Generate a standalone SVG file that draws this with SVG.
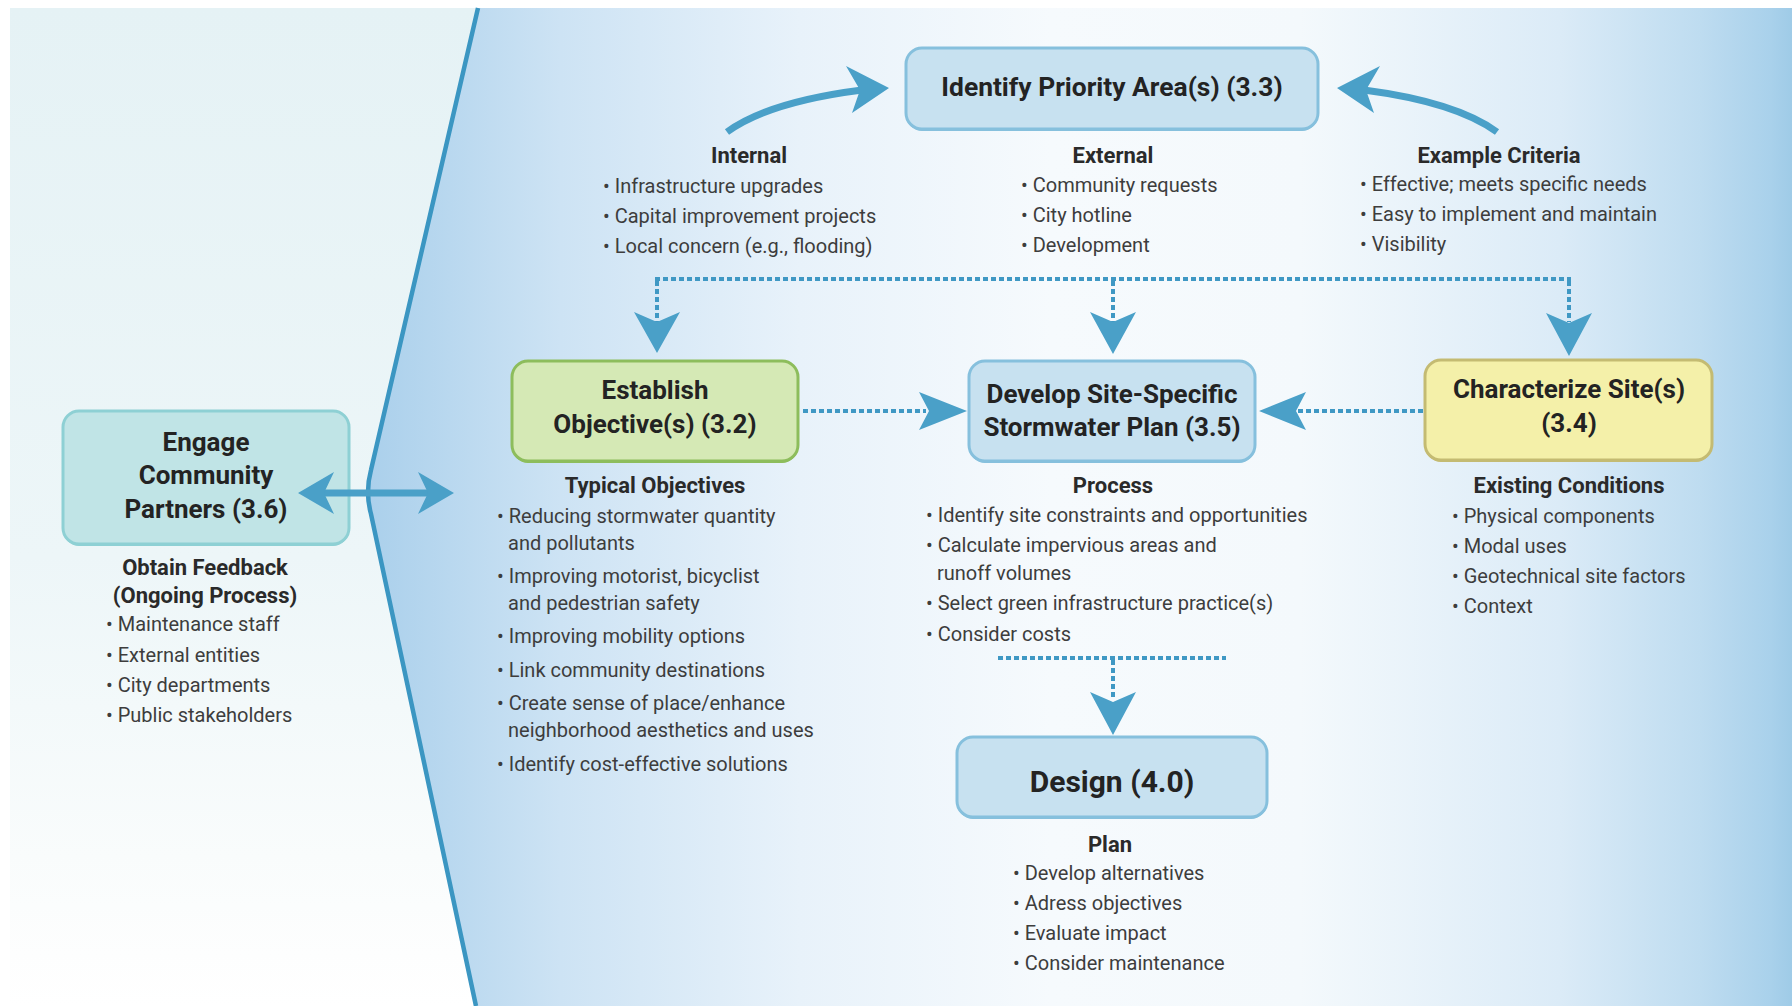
<svg xmlns="http://www.w3.org/2000/svg" width="1792" height="1006" viewBox="0 0 1792 1006">
<defs>
<linearGradient id="gLeft" x1="0" y1="8" x2="0" y2="1006" gradientUnits="userSpaceOnUse">
<stop offset="0" stop-color="#e5f2f5"/>
<stop offset="0.55" stop-color="#edf6f8"/>
<stop offset="0.85" stop-color="#f9fcfc"/>
<stop offset="1" stop-color="#ffffff"/>
</linearGradient>
<linearGradient id="gRight" x1="360" y1="0" x2="1792" y2="0" gradientUnits="userSpaceOnUse">
<stop offset="0" stop-color="#a9cfeb"/>
<stop offset="0.14" stop-color="#cde3f4"/>
<stop offset="0.307" stop-color="#e8f2fa"/>
<stop offset="0.482" stop-color="#f6fafd"/>
<stop offset="0.656" stop-color="#f4f9fc"/>
<stop offset="0.838" stop-color="#dbebf7"/>
<stop offset="0.936" stop-color="#bedcf0"/>
<stop offset="0.985" stop-color="#a9d1eb"/>
<stop offset="1" stop-color="#9fcbe7"/>
</linearGradient>
<style>
.t{font-family:Roboto,"Liberation Sans",sans-serif;font-weight:700;font-size:26px;fill:#232323;text-anchor:middle}
.h{font-family:Roboto,"Liberation Sans",sans-serif;font-weight:700;font-size:22px;fill:#2a2a2a;text-anchor:middle}
.b{font-family:Roboto,"Liberation Sans",sans-serif;font-size:20px;fill:#3d3d3d}
.ah{fill:#4aa0c8}
.dot{stroke:#3f98c4;stroke-width:4;stroke-dasharray:5 3;fill:none}
.shaft{stroke:#4aa0c8;stroke-width:7;fill:none}
.blue{fill:#c7e1f0}
.blueE{fill:#86c0dd}
.green{fill:#d5e9b5}
.greenE{fill:#8dbd5c}
.yellow{fill:#f4f0a9}
.yellowE{fill:#c4bb72}
.teal{fill:#c0e4e6}
.tealE{fill:#8ed0d4}
</style>
</defs>

<g id="background">
<rect x="0" y="0" width="1792" height="1006" fill="#ffffff"/>
<path d="M10,8 L478,8 L371,470 Q365,492 371,514 L476,1006 L10,1006 Z" fill="url(#gLeft)"/>
<path d="M478,8 L1792,8 L1792,1006 L476,1006 L371,514 Q365,492 371,470 Z" fill="url(#gRight)"/>
<path d="M478,8 L371,470 Q365,492 371,514 L476,1006" fill="none" stroke="#3b96c2" stroke-width="4.5"/>
</g>

<g id="n33">
<rect class="blueE" x="906" y="50" width="412" height="81" rx="16"/>
<rect class="blue" x="906" y="48" width="412" height="81" rx="16" stroke="#86c0dd" stroke-width="3"/>
<text class="t" x="1112" y="96" style="font-size:26.4px">Identify Priority Area(s) (3.3)</text>
</g>

<g id="internal">
<text class="h" x="749" y="163">Internal</text>
<text class="b"><tspan x="603" y="193">• Infrastructure upgrades</tspan><tspan x="603" y="223">• Capital improvement projects</tspan><tspan x="603" y="253">• Local concern (e.g., flooding)</tspan></text>
</g>

<g id="external">
<text class="h" x="1113" y="163">External</text>
<text class="b"><tspan x="1021" y="192">• Community requests</tspan><tspan x="1021" y="222">• City hotline</tspan><tspan x="1021" y="252">• Development</tspan></text>
</g>

<g id="criteria">
<text class="h" x="1499" y="163">Example Criteria</text>
<text class="b"><tspan x="1360" y="191">• Effective; meets specific needs</tspan><tspan x="1360" y="221">• Easy to implement and maintain</tspan><tspan x="1360" y="251">• Visibility</tspan></text>
</g>

<g id="n32">
<rect class="greenE" x="512" y="363" width="286" height="100" rx="16"/>
<rect class="green" x="512" y="361" width="286" height="100" rx="16" stroke="#8dbd5c" stroke-width="3"/>
<text class="t" x="655" y="399">Establish</text>
<text class="t" x="655" y="433">Objective(s) (3.2)</text>
</g>

<g id="objectives">
<text class="h" x="655" y="493">Typical Objectives</text>
<text class="b"><tspan x="497" y="523">• Reducing stormwater quantity</tspan><tspan x="508" y="550">and pollutants</tspan><tspan x="497" y="583">• Improving motorist, bicyclist</tspan><tspan x="508" y="610">and pedestrian safety</tspan><tspan x="497" y="643">• Improving mobility options</tspan><tspan x="497" y="677">• Link community destinations</tspan><tspan x="497" y="710">• Create sense of place/enhance</tspan><tspan x="508" y="737">neighborhood aesthetics and uses</tspan><tspan x="497" y="771">• Identify cost-effective solutions</tspan></text>
</g>

<g id="n35">
<rect class="blueE" x="969" y="363" width="286" height="100" rx="16"/>
<rect class="blue" x="969" y="361" width="286" height="100" rx="16" stroke="#86c0dd" stroke-width="3"/>
<text class="t" x="1112" y="403">Develop Site-Specific</text>
<text class="t" x="1112" y="436">Stormwater Plan (3.5)</text>
</g>

<g id="process">
<text class="h" x="1113" y="493">Process</text>
<text class="b"><tspan x="926" y="522">• Identify site constraints and opportunities</tspan><tspan x="926" y="552">• Calculate impervious areas and</tspan><tspan x="937" y="580">runoff volumes</tspan><tspan x="926" y="610">• Select green infrastructure practice(s)</tspan><tspan x="926" y="641">• Consider costs</tspan></text>
</g>

<g id="n34">
<rect class="yellowE" x="1425" y="362" width="287" height="100" rx="16"/>
<rect class="yellow" x="1425" y="360" width="287" height="100" rx="16" stroke="#c4bb72" stroke-width="3"/>
<text class="t" x="1569" y="398">Characterize Site(s)</text>
<text class="t" x="1569" y="432">(3.4)</text>
</g>

<g id="conditions">
<text class="h" x="1569" y="493">Existing Conditions</text>
<text class="b"><tspan x="1452" y="523">• Physical components</tspan><tspan x="1452" y="553">• Modal uses</tspan><tspan x="1452" y="583">• Geotechnical site factors</tspan><tspan x="1452" y="613">• Context</tspan></text>
</g>

<g id="n36">
<rect class="tealE" x="63" y="413" width="286" height="133" rx="16"/>
<rect class="teal" x="63" y="411" width="286" height="133" rx="16" stroke="#8ed0d4" stroke-width="3"/>
<text class="t" x="206" y="451">Engage</text>
<text class="t" x="206" y="484">Community</text>
<text class="t" x="206" y="518">Partners (3.6)</text>
</g>

<g id="feedback">
<text class="h" x="205" y="575">Obtain Feedback</text>
<text class="h" x="205" y="603">(Ongoing Process)</text>
<text class="b"><tspan x="106" y="631">• Maintenance staff</tspan><tspan x="106" y="662">• External entities</tspan><tspan x="106" y="692">• City departments</tspan><tspan x="106" y="722">• Public stakeholders</tspan></text>
</g>

<g id="n40">
<rect class="blueE" x="957" y="739" width="310" height="80" rx="16"/>
<rect class="blue" x="957" y="737" width="310" height="80" rx="16" stroke="#86c0dd" stroke-width="3"/>
<text class="t" x="1112" y="792" style="font-size:30px">Design (4.0)</text>
</g>

<g id="plan">
<text class="h" x="1110" y="852">Plan</text>
<text class="b"><tspan x="1013" y="880">• Develop alternatives</tspan><tspan x="1013" y="910">• Adress objectives</tspan><tspan x="1013" y="940">• Evaluate impact</tspan><tspan x="1013" y="970">• Consider maintenance</tspan></text>
</g>

<g id="connectors">
<!-- curved arrows into Identify Priority Area(s) -->
<path class="shaft" d="M727,132 Q768,102 862,90"/>
<polygon class="ah" points="889,88 846,66 860,90 852,113"/>
<path class="shaft" d="M1497,132 Q1456,102 1364,90"/>
<polygon class="ah" points="1337,88 1380,66 1366,90 1374,113"/>
<!-- top dotted distribution -->
<path class="dot" d="M655,279 L1571,279"/>
<path class="dot" d="M657,281 L657,322"/>
<polygon class="ah" points="657,353 634,312 657,322 680,312"/>
<path class="dot" d="M1113,281 L1113,322"/>
<polygon class="ah" points="1113,354 1090,312 1113,322 1136,312"/>
<path class="dot" d="M1569,281 L1569,322"/>
<polygon class="ah" points="1569,356 1546,313 1569,323 1592,313"/>
<!-- horizontal dotted arrows into Develop -->
<path class="dot" d="M803,411 L926,411"/>
<polygon class="ah" points="967,411 919,392 929,411 919,430"/>
<path class="dot" d="M1423,411 L1298,411"/>
<polygon class="ah" points="1259,411 1306,392 1296,411 1306,430"/>
<!-- dotted from Process to Design -->
<path class="dot" d="M998,658 L1226,658"/>
<path class="dot" d="M1113,660 L1113,700"/>
<polygon class="ah" points="1113,735 1090,692 1113,702 1136,692"/>
<!-- double arrow Engage -->
<path class="shaft" d="M322,493 L430,493"/>
<polygon class="ah" points="298,493 334,472 324,493 334,514"/>
<polygon class="ah" points="454,493 418,472 428,493 418,514"/>
</g>
</svg>
